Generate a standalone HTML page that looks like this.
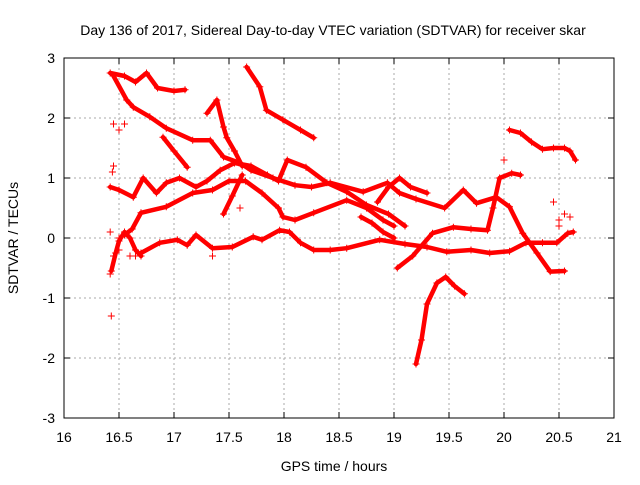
<!DOCTYPE html>
<html><head><meta charset="utf-8"><style>
body{margin:0;background:#fff;font-family:"Liberation Sans",sans-serif}
svg text{font-family:"Liberation Sans",sans-serif;font-size:14px;fill:#000}
</style></head><body>
<svg id="c" width="640" height="480">
<text x="333" y="35" text-anchor="middle">Day 136 of 2017, Sidereal Day-to-day VTEC variation (SDTVAR) for receiver skar</text>
<text x="334" y="471" text-anchor="middle">GPS time / hours</text>
<text x="18" y="238" text-anchor="middle" transform="rotate(-90 18 238)">SDTVAR / TECUs</text>
<g id="grid"></g><g id="marks"></g>
<rect x="64" y="58" width="550" height="360" fill="none" stroke="#000"/>
</svg>
<script>
const xTicks=[16,16.5,17,17.5,18,18.5,19,19.5,20,20.5,21];
const yTicks=[-3,-2,-1,0,1,2,3];
const trackA=[[16.7,-0.25],[16.87,-0.08],[17.03,-0.03],[17.12,-0.12],[17.2,0.05],[17.35,-0.17],[17.53,-0.15],[17.72,0.02],[17.8,-0.03],[17.96,0.13],[18.05,0.1],[18.15,-0.08],[18.27,-0.2],[18.42,-0.2],[18.57,-0.17],[18.87,-0.03],[19.1,-0.1],[19.3,-0.15],[19.48,-0.23],[19.7,-0.2],[19.87,-0.25],[20.05,-0.22],[20.2,-0.08],[20.35,-0.08],[20.48,-0.08],[20.58,0.08],[20.63,0.1]];
const trackB=[[16.45,2.7],[16.57,2.3],[16.63,2.18],[16.78,2.02],[16.93,1.83],[17.17,1.63],[17.33,1.63],[17.45,1.35],[17.6,1.25],[17.7,1.13],[17.9,1.0],[18.1,0.88],[18.25,0.85],[18.42,0.92],[18.72,0.77],[18.94,0.92],[19.05,0.75],[19.2,0.65],[19.46,0.5],[19.63,0.8],[19.75,0.58],[19.93,0.68],[20.05,0.52],[20.17,0.08],[20.3,-0.25],[20.42,-0.56],[20.55,-0.55]];
const trackC=[[17.66,2.85],[17.78,2.52],[17.84,2.13],[17.99,1.97],[18.15,1.8],[18.27,1.67]];
const trackD=[[16.42,2.75],[16.55,2.7],[16.65,2.6],[16.75,2.75],[16.85,2.5],[17.0,2.45],[17.1,2.47]];
const trackE=[[16.9,1.68],[17.0,1.45],[17.12,1.18]];
const trackE2=[[17.3,2.08],[17.39,2.3],[17.45,1.85],[17.48,1.67],[17.55,1.45],[17.62,1.2]];
const trackE3=[[17.45,0.4],[17.53,0.7],[17.62,1.05]];
const trackF=[[16.42,0.85],[16.5,0.8],[16.63,0.68],[16.72,1.0],[16.84,0.75],[16.93,0.92],[17.05,1.0],[17.2,0.85],[17.3,0.95],[17.42,1.13],[17.55,1.25],[17.7,1.2],[17.85,1.05],[17.95,0.95],[18.03,1.3],[18.2,1.18],[18.39,0.92],[18.57,0.77],[18.75,0.55],[18.95,0.4],[19.1,0.2]];
const trackG=[[16.55,0.05],[16.62,0.15],[16.7,0.42],[16.93,0.52],[17.17,0.75],[17.35,0.8],[17.5,0.95],[17.65,0.95],[17.8,0.75],[17.95,0.5],[17.99,0.35],[18.1,0.3],[18.27,0.42],[18.57,0.63],[18.75,0.5],[18.9,0.3],[19.0,0.2]];
const trackI=[[20.05,1.8],[20.15,1.75],[20.25,1.6],[20.35,1.48],[20.45,1.5],[20.55,1.5],[20.6,1.45],[20.65,1.3]];
const trackJ=[[19.2,-2.1],[19.25,-1.7],[19.3,-1.1],[19.39,-0.75],[19.47,-0.65],[19.55,-0.8],[19.64,-0.93]];
const trackK=[[19.03,-0.5],[19.17,-0.3],[19.35,0.08],[19.54,0.18],[19.7,0.15],[19.85,0.13],[19.9,0.5],[19.96,1.0],[20.07,1.08],[20.15,1.05]];
const trackM=[[18.85,0.6],[18.95,0.85],[19.05,1.0],[19.15,0.85],[19.3,0.75]];
const trackN=[[16.43,-0.55],[16.47,-0.25],[16.5,-0.05],[16.55,0.1],[16.6,0.0],[16.65,-0.2],[16.7,-0.3]];
const trackP=[[18.7,0.35],[18.8,0.25],[18.9,0.1],[19.0,0.0]];
const trackL=[[16.42,-0.6],[16.45,-0.3],[16.43,-1.3],[16.45,1.9],[16.5,1.8],[16.55,1.9],[16.42,0.1],[16.5,0.0],[16.55,0.1],[16.6,0.0],[16.65,-0.3],[16.5,-0.2],[16.6,-0.3],[20.5,0.3],[20.55,0.4],[20.6,0.35],[20.45,0.6],[20.5,0.2],[17.6,0.5],[17.35,-0.3],[20.0,1.3],[16.45,1.2],[16.44,1.1]];
const tracks=[trackA,trackB,trackC,trackD,trackE,trackE2,trackE3,trackF,trackG,trackI,trackJ,trackK,trackM,trackN,trackP];
const X=v=>64+(v-16)*110, Y=v=>238-v*60;
const NS="http://www.w3.org/2000/svg";
const g=document.getElementById('grid'), m=document.getElementById('marks');
function mk(t,a,p){const e=document.createElementNS(NS,t);for(const k in a)e.setAttribute(k,a[k]);p.appendChild(e);return e;}
xTicks.forEach(v=>{
 const l=mk('line',{x1:X(v),x2:X(v),y1:58,y2:418,stroke:'#aaa','stroke-dasharray':'2,3'},g);
 
 
 mk('line',{x1:X(v),x2:X(v),y1:418,y2:412,stroke:'#000'},g);
 mk('line',{x1:X(v),x2:X(v),y1:58,y2:64,stroke:'#000'},g);
 const t=mk('text',{x:X(v),y:442,'text-anchor':'middle'},g);t.textContent=v;
 
 
});
yTicks.forEach(v=>{
 const l=mk('line',{x1:64,x2:614,y1:Y(v),y2:Y(v),stroke:'#aaa','stroke-dasharray':'2,3'},g);
 
 
 mk('line',{x1:64,x2:70,y1:Y(v),y2:Y(v),stroke:'#000'},g);
 mk('line',{x1:614,x2:608,y1:Y(v),y2:Y(v),stroke:'#000'},g);
 const t=mk('text',{x:55,y:Y(v)+5,'text-anchor':'end'},g);t.textContent=v;
 
 
});
function plus(p){
 const d=`M${X(p[0])-3.5},${Y(p[1])}h7M${X(p[0])},${Y(p[1])-3.5}v7`;
 const e=mk('path',{d:d,stroke:'#f00','stroke-width':1,fill:'none'},m);
 
 
}
tracks.forEach(tr=>{
 const pl=mk('polyline',{points:tr.map(p=>X(p[0])+','+Y(p[1])).join(' '),fill:'none',stroke:'#f00','stroke-width':4.5,'stroke-linejoin':'round','stroke-linecap':'round'},m);
 
 
 tr.forEach(plus);
});
trackL.forEach(plus);
</script>
</body></html>
